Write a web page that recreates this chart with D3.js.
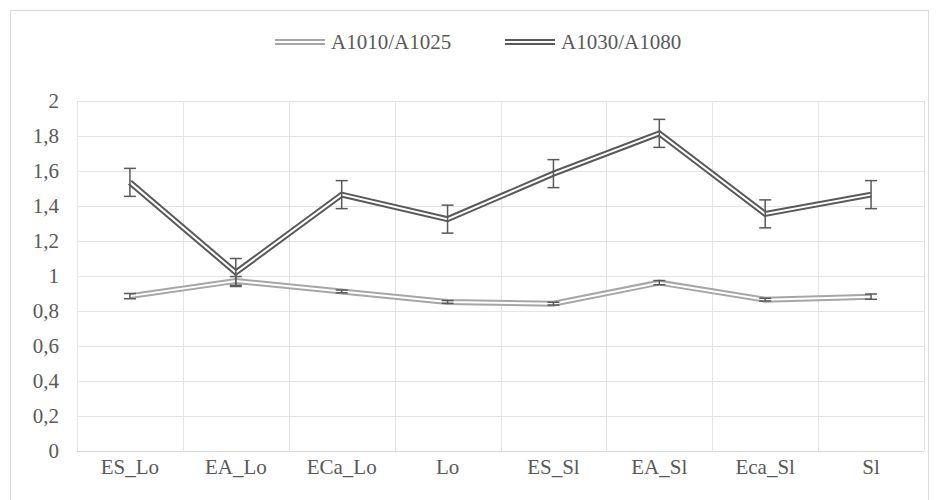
<!DOCTYPE html>
<html>
<head>
<meta charset="utf-8">
<script src="https://cdn.jsdelivr.net/npm/d3@7"></script>
<style>
  html, body { margin: 0; padding: 0; background: #fff; }
</style>
</head>
<body>
<svg id="chart" width="939" height="500"></svg>
<script>
// ── Data ──────────────────────────────────────────────────────────────────────
const categories = ['ES_Lo', 'EA_Lo', 'ECa_Lo', 'Lo', 'ES_Sl', 'EA_Sl', 'Eca_Sl', 'Sl'];

const ratioLow     = [0.885, 0.972, 0.912, 0.852, 0.842, 0.962, 0.865, 0.882];  // A1010/A1025
const ratioLowErr  = [0.015, 0.025, 0.008, 0.008, 0.008, 0.012, 0.008, 0.015];
const ratioHigh    = [1.535, 1.02, 1.465, 1.325, 1.585, 1.815, 1.355, 1.465];   // A1030/A1080
const ratioHighErr = [0.08, 0.08, 0.08, 0.08, 0.08, 0.08, 0.08, 0.08];

const seriesNames = ['A1010/A1025', 'A1030/A1080'];
const yTicks      = [0, 0.2, 0.4, 0.6, 0.8, 1, 1.2, 1.4, 1.6, 1.8, 2];

// ── Layout ────────────────────────────────────────────────────────────────────
const W = 939, H = 500;
const plot = { left: 77, right: 924, top: 101, bottom: 451 };
const TEXT = '#595959';
const GRID = '#e4e4e4';
const FONT = 21;
const FAMILY = "'Times New Roman', Times, 'Liberation Serif', 'Nimbus Roman', 'FreeSerif', 'DejaVu Serif', serif";
const colors = ['#a6a6a6', '#595959'];

const svg = d3.select('#chart').attr('font-family', FAMILY);

// chart frame
svg.append('rect')
  .attr('x', 10.5).attr('y', 10.5)
  .attr('width', W - 21).attr('height', H)
  .attr('fill', '#fff').attr('stroke', '#d9d9d9').attr('stroke-width', 1);

const x = d3.scaleBand().domain(categories).range([plot.left, plot.right]);
const y = d3.scaleLinear().domain([0, 2]).range([plot.bottom, plot.top]);

// ── Gridlines ─────────────────────────────────────────────────────────────────
const grid = svg.append('g');
grid.selectAll('line.h')
  .data(yTicks.filter(t => t > 0))
  .enter().append('line')
  .attr('x1', plot.left).attr('x2', plot.right)
  .attr('y1', d => Math.round(y(d)) + 0.5).attr('y2', d => Math.round(y(d)) + 0.5)
  .attr('stroke', GRID).attr('stroke-width', 1);

const bounds = categories.map(c => x(c)).concat([plot.right]);
grid.selectAll('line.v')
  .data(bounds)
  .enter().append('line')
  .attr('x1', d => Math.round(d) + 0.5).attr('x2', d => Math.round(d) + 0.5)
  .attr('y1', plot.top).attr('y2', plot.bottom)
  .attr('stroke', GRID).attr('stroke-width', 1);

// x axis line
svg.append('line')
  .attr('x1', plot.left).attr('x2', plot.right)
  .attr('y1', Math.round(y(0)) + 0.5).attr('y2', Math.round(y(0)) + 0.5)
  .attr('stroke', '#d9d9d9').attr('stroke-width', 1);

// ── Axis labels ───────────────────────────────────────────────────────────────
const fmt = v => String(v).replace('.', ',');

svg.append('g').selectAll('text')
  .data(yTicks)
  .enter().append('text')
  .attr('x', 59)
  .attr('y', d => y(d))
  .attr('dy', '0.35em')
  .attr('text-anchor', 'end')
  .attr('fill', TEXT)
  .attr('font-size', FONT)
  .text(fmt);

svg.append('g').selectAll('text')
  .data(categories)
  .enter().append('text')
  .attr('x', d => x(d) + x.bandwidth() / 2)
  .attr('y', 474)
  .attr('text-anchor', 'middle')
  .attr('fill', TEXT)
  .attr('font-size', FONT)
  .text(d => d);

// ── Series (double compound line) ─────────────────────────────────────────────
const line = d3.line()
  .x((d, i) => x(categories[i]) + x.bandwidth() / 2)
  .y(d => y(d));

function drawDouble(g, d, color) {
  g.append('path').attr('d', d)
    .attr('fill', 'none').attr('stroke', color).attr('stroke-width', 6)
    .attr('stroke-linejoin', 'miter').attr('stroke-linecap', 'butt');
  g.append('path').attr('d', d)
    .attr('fill', 'none').attr('stroke', '#fff').attr('stroke-width', 2)
    .attr('stroke-linejoin', 'miter').attr('stroke-linecap', 'butt');
}

function drawErrors(g, vals, errs) {
  vals.forEach((v, i) => {
    const cx = x(categories[i]) + x.bandwidth() / 2;
    const y1 = y(v + errs[i]), y2 = y(v - errs[i]);
    g.append('line').attr('x1', cx).attr('x2', cx).attr('y1', y1).attr('y2', y2)
      .attr('stroke', TEXT).attr('stroke-width', 1.5);
    [y1, y2].forEach(yy => {
      g.append('line').attr('x1', cx - 6).attr('x2', cx + 6).attr('y1', yy).attr('y2', yy)
        .attr('stroke', TEXT).attr('stroke-width', 1.5);
    });
  });
}

const gLow = svg.append('g');
drawDouble(gLow, line(ratioLow), colors[0]);
drawErrors(gLow, ratioLow, ratioLowErr);

const gHigh = svg.append('g');
drawDouble(gHigh, line(ratioHigh), colors[1]);
drawErrors(gHigh, ratioHigh, ratioHighErr);

// ── Legend ────────────────────────────────────────────────────────────────────
const legendX = [275, 505];
const leg = svg.append('g');
seriesNames.forEach((name, i) => {
  const lx = legendX[i], ly = 42;
  drawDouble(leg, `M${lx},${ly}H${lx + 50}`, colors[i]);
  leg.append('text')
    .attr('x', lx + 56).attr('y', ly).attr('dy', '0.35em')
    .attr('fill', TEXT).attr('font-size', FONT)
    .text(name);
});
</script>
</body>
</html>
